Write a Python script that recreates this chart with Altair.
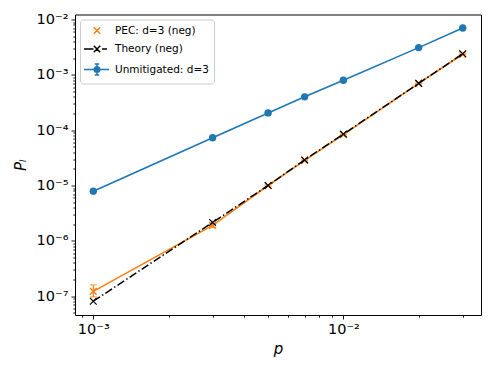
import altair as alt
import pandas as pd

# ---- data ----
p_vals = [0.001, 0.003, 0.005, 0.007, 0.01, 0.02, 0.03]
unmitigated = [7.9e-6, 7.3e-5, 2.05e-4, 4.0e-4, 8.0e-4, 3.1e-3, 7.0e-3]
pec = [1.22e-7, 1.9e-6, 1.0e-5, 2.85e-5, 8.3e-5, 7.0e-4, 2.35e-3]
pec_lo = [9.7e-8, 1.75e-6, 9.7e-6, 2.8e-5, 8.2e-5, 6.9e-4, 2.33e-3]
pec_hi = [1.6e-7, 2.05e-6, 1.03e-5, 2.9e-5, 8.4e-5, 7.1e-4, 2.37e-3]
theory = [8.1e-8, 2.15e-6, 1.0e-5, 2.9e-5, 8.5e-5, 7.0e-4, 2.4e-3]
series_names = ["PEC: d=3 (neg)", "Theory (neg)", "Unmitigated: d=3"]
series_colors = ["#ff7f0e", "#000000", "#1f77b4"]

BLUE, ORANGE, BLACK = "#1f77b4", "#ff7f0e", "#000000"
FONT = "DejaVu Sans"

x_dom = [8.45e-4, 0.0355]
y_dom = [4.57e-8, 0.0123]
x_ticks = [m * 10.0 ** e for e in range(-4, -1) for m in range(1, 10)]
x_ticks = [t for t in x_ticks if x_dom[0] <= t <= x_dom[1]]
y_ticks = [m * 10.0 ** e for e in range(-8, -1) for m in range(1, 10)]
y_ticks = [t for t in y_ticks if y_dom[0] <= t <= y_dom[1]]

IS_MAJOR = "abs(log(datum.value)/LN10 - round(log(datum.value)/LN10)) < 1e-6"
LABEL = ("(" + IS_MAJOR + ") ? '10' + (round(log(datum.value)/LN10) < 0 ? '\u207b' : '') + "
         "['\u2070','\u00b9','\u00b2','\u00b3','\u2074','\u2075','\u2076','\u2077','\u2078','\u2079']"
         "[abs(round(log(datum.value)/LN10))] : ''")
TICK_SIZE = {"condition": {"test": IS_MAJOR, "value": 4}, "value": 2.2}

axis_common = dict(grid=False, domain=False, tickColor="black", tickWidth=0.9,
                   tickSize=TICK_SIZE, labelExpr=LABEL, labelColor="black",
                   labelFont=FONT, labelFontSize=14.5, labelOverlap=False,
                   labelFlush=False, labelBound=False, labelPadding=3,
                   titleFont=FONT, titleFontSize=15, titleColor="black",
                   titleFontWeight="normal", titleFontStyle="italic")
x_axis = alt.Axis(title="p", values=x_ticks, titlePadding=6, **axis_common)
y_axis = alt.Axis(title="P\u2097", values=y_ticks, titlePadding=8, **axis_common)
xs = alt.Scale(type="log", domain=x_dom, nice=False, zero=False)
ys = alt.Scale(type="log", domain=y_dom, nice=False, zero=False)

X = alt.X("p:Q", scale=xs, axis=x_axis)

def Y(field):
    return alt.Y(field + ":Q", scale=ys, axis=y_axis)

df_u = pd.DataFrame({"p": p_vals, "v": unmitigated})
df_pec = pd.DataFrame({"p": p_vals, "v": pec, "lo": pec_lo, "hi": pec_hi})
df_th = pd.DataFrame({"p": p_vals, "v": theory})

XPATH = "M-1,-1L1,1M-1,1L1,-1"

pec_line = alt.Chart(df_pec).mark_line(color=ORANGE, strokeWidth=1.6).encode(x=X, y=Y("v"))
pec_err = alt.Chart(df_pec).mark_rule(color=ORANGE, strokeWidth=1.2).encode(
    x=X, y=Y("lo"), y2="hi:Q")
pec_cap_lo = alt.Chart(df_pec).mark_tick(color=ORANGE, orient="horizontal", thickness=1.2,
                                         size=7).encode(x=X, y=Y("lo"))
pec_cap_hi = alt.Chart(df_pec).mark_tick(color=ORANGE, orient="horizontal", thickness=1.2,
                                         size=7).encode(x=X, y=Y("hi"))
pec_pts = alt.Chart(df_pec).mark_point(shape=XPATH, size=45, filled=False, color=ORANGE,
                                       strokeWidth=1.4, opacity=1).encode(x=X, y=Y("v"))

th_line = alt.Chart(df_th).mark_line(color=BLACK, strokeWidth=1.5,
                                     strokeDash=[8, 2.5, 1.5, 2.5]).encode(x=X, y=Y("v"))
th_pts = alt.Chart(df_th).mark_point(shape=XPATH, size=45, filled=False, color=BLACK,
                                     strokeWidth=1.2, opacity=1).encode(x=X, y=Y("v"))

u_line = alt.Chart(df_u).mark_line(color=BLUE, strokeWidth=1.6).encode(x=X, y=Y("v"))
u_pts = alt.Chart(df_u).mark_point(filled=True, size=55, color=BLUE, opacity=1).encode(
    x=X, y=Y("v"))

# ---- legend symbols (custom paths, 1 unit = 5 px with symbolSize 100) ----
c = 1.2
def xmark(h=0.65):
    return f"M{c-h},{-h}L{c+h},{h}M{c-h},{h}L{c+h},{-h}"

def ring(r):
    return f"M{c+r},0A{r},{r} 0 1,1 {c-r},0A{r},{r} 0 1,1 {c+r},0"

legend_paths = [
    xmark(),
    "M-1.4,0L0.5,0M2.2,0L3.2,0" + xmark(),
    "M-1.4,0L3.6,0M1.2,-1.1L1.2,1.1M0.75,-1.1L1.65,-1.1M0.75,1.1L1.65,1.1"
    + ring(0.55) + ring(0.25) + ring(0.06),
]

leg = alt.Legend(title=None, orient="top-left", offset=5, padding=5, rowPadding=4.5,
                 symbolSize=100, symbolStrokeWidth=1.5, labelOffset=18,
                 labelFont=FONT, labelFontSize=10.5, labelColor="black",
                 fillColor="white", strokeColor="#cccccc", cornerRadius=3)

legend_layer = alt.Chart(pd.DataFrame({"series": series_names})).mark_point(
    filled=False, opacity=1).encode(
    color=alt.Color("series:N", scale=alt.Scale(domain=series_names, range=series_colors),
                    legend=leg),
    shape=alt.Shape("series:N", scale=alt.Scale(domain=series_names, range=legend_paths),
                    legend=leg),
).transform_filter("false")

chart = alt.layer(
    u_line, u_pts, pec_line, pec_err, pec_cap_lo, pec_cap_hi, pec_pts, th_line, th_pts,
    legend_layer,
).properties(
    width=406, height=300.5,
    autosize=alt.AutoSizeParams(type="none"),
    padding={"left": 67, "top": 6.5, "right": 4, "bottom": 47},
    background="white",
).configure_view(stroke="black", strokeWidth=1)

chart.save("out.html", embed_options={"renderer": "svg", "actions": False})
